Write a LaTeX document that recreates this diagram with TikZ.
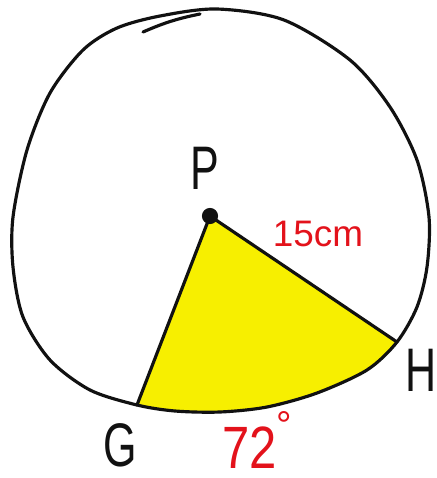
\documentclass[tikz,border=0pt]{standalone}
\usepackage{fontspec}
\setmainfont{Liberation Sans}
\usepackage{tikz}
\usetikzlibrary{positioning}
\definecolor{sectorYellow}{HTML}{F7EF00}
\definecolor{labelRed}{HTML}{E3121B}
\definecolor{penBlack}{HTML}{111111}
\newcommand{\slim}[1]{\scalebox{0.7}[1]{#1}}

\begin{document}
\begin{tikzpicture}[
        x=0.02cm, y=-0.02cm,
        pen/.style={
            draw=penBlack,
            line width=1.8pt,
            line cap=round,
            line join=round
        },
        letter/.style={
            inner sep=0pt,
            text=penBlack,
            font=\fontsize{35}{40}\selectfont
        },
        measure/.style={
            inner sep=0pt,
            text=labelRed
        }
    ]
    \useasboundingbox (0,0) rectangle (437,478);

    \coordinate (centre) at (210,216);
    \coordinate (g) at (137,405);
    \coordinate (h) at (397,342);

    % shaded sector
    \fill[sectorYellow] (centre) -- plot[smooth] coordinates
        {(137,405) (175,411) (220,412) (267,407) (317,393) (367,370) (397,342)}
        -- cycle;

    % circle
    \draw[pen] plot[smooth cycle] coordinates
        {(217,9) (284,20) (350,60) (390,107) (417,160) (429,217) (427,267)
         (417,307) (397,342) (367,370) (317,393) (267,407) (220,412)
         (175,411) (137,405) (90,390) (50,360) (23,317) (13,267) (13,217)
         (27,150) (50,93) (83,50) (117,28) (160,16)};
    \draw[pen] (143,32) to[bend left=6] (200,14);

    \draw[pen] (g) -- (centre) -- (h);
    \fill[penBlack] (centre) circle[radius=4.6pt];

    \node[letter] (P) at (205,168) {\slim{P}};
    \node[letter] (H) at (421,370) {\slim{H}};
    \node[letter] (G) at (120,445) {\slim{G}};

    \node[measure, font=\fontsize{21}{24}\selectfont] (radius) at (318,234) {15cm};
    \node[measure, font=\fontsize{34}{40}\selectfont, anchor=base west] (angle)
        at (222,468) {\scalebox{0.82}[1]{72}\raisebox{17pt}{\fontsize{22}{22}\selectfont °}};

\end{tikzpicture}
\end{document}
